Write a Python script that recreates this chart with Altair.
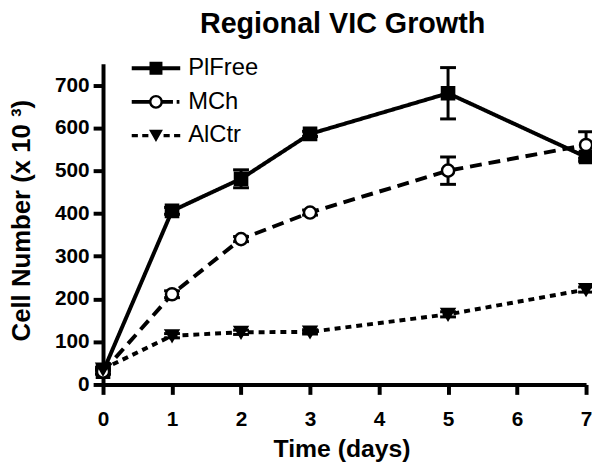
import altair as alt
import pandas as pd

# ---- data ----
days = [0, 1, 2, 3, 5, 7]
series_names = ["PlFree", "MCh", "AlCtr"]
plfree_mean = [30, 406, 481, 586, 681, 532]
plfree_err = [6, 8, 21, 6, 60, 10]
mch_mean = [30, 211, 340, 402, 500, 560]
mch_err = [5, 8, 6, 6, 32, 31]
alctr_mean = [36, 114, 122, 123, 164, 222]
alctr_err = [4, 5, 5, 5, 6, 6]

x_ticks = [0, 1, 2, 3, 4, 5, 6, 7]
y_ticks = [0, 100, 200, 300, 400, 500, 600, 700]

FONT = "Liberation Sans, Arial, Helvetica, sans-serif"

rows = []
for name, means, errs in [("PlFree", plfree_mean, plfree_err),
                          ("MCh", mch_mean, mch_err),
                          ("AlCtr", alctr_mean, alctr_err)]:
    for d, m, e in zip(days, means, errs):
        rows.append({"series": name, "day": d, "mean": m, "lo": m - e, "hi": m + e})
df = pd.DataFrame(rows)

# legend symbol glyphs (line segment + marker), drawn as filled outlines
legend_paths = [
    "M-1.5,-0.12H1.5V0.12H-1.5Z"
    "M-0.4,-0.4H0.4V0.4H-0.4Z",
    "M-1.5,-0.12H-0.4V0.12H-1.5Z"
    "M0.4,-0.12H1.05V0.12H0.4Z"
    "M1.28,-0.12H1.45V0.12H1.28Z"
    "M0.43,0A0.43,0.43 0 1,1 -0.43,0A0.43,0.43 0 1,1 0.43,0Z"
    "M0.28,0A0.28,0.28 0 1,0 -0.28,0A0.28,0.28 0 1,0 0.28,0Z",
    "M-1.5,-0.1H-1.12V0.1H-1.5Z"
    "M-0.85,-0.1H-0.47V0.1H-0.85Z"
    "M0.47,-0.1H0.85V0.1H0.47Z"
    "M1.12,-0.1H1.5V0.1H1.12Z"
    "M-0.43,-0.35L0.43,-0.35L0,0.4Z",
]

xenc = alt.X("day:Q", scale=alt.Scale(domain=[0, 7], nice=False),
             axis=alt.Axis(values=x_ticks, title="Time (days)", format="d",
                           titleX=241, titleY=73, titleBaseline="alphabetic",
                           titleAlign="center"))
yscale = alt.Scale(domain=[0, 750], nice=False)
yaxis = alt.Axis(values=y_ticks, title="Cell Number (x 10 ³)",
                 titleX=-82, titleY=158, titleAngle=270, titleAlign="center",
                 titleBaseline="middle", labelPadding=4, titleFontSize=26)

base = alt.Chart(df)

lines = base.mark_line(strokeWidth=4, color="black").encode(
    x=xenc,
    y=alt.Y("mean:Q", scale=yscale, axis=yaxis),
    strokeDash=alt.StrokeDash("series:N",
                              scale=alt.Scale(domain=series_names,
                                              range=[[1, 0], [12, 7], [6, 5]]),
                              legend=None),
)

err_rules = base.mark_rule(strokeWidth=3, color="black").encode(
    x="day:Q", y=alt.Y("lo:Q", scale=yscale), y2="hi:Q"
)
cap_hi = base.mark_point(shape="M-1,0L1,0", size=256, strokeWidth=3,
                         color="black", filled=False, opacity=1).encode(
    x="day:Q", y=alt.Y("hi:Q", scale=yscale))
cap_lo = base.mark_point(shape="M-1,0L1,0", size=256, strokeWidth=3,
                         color="black", filled=False, opacity=1).encode(
    x="day:Q", y=alt.Y("lo:Q", scale=yscale))

points = base.mark_point(filled=True, stroke="black", strokeWidth=2.5,
                         opacity=1, size=150).encode(
    x="day:Q",
    y=alt.Y("mean:Q", scale=yscale),
    shape=alt.Shape("series:N",
                    scale=alt.Scale(domain=series_names,
                                    range=["square", "circle", "triangle-down"]),
                    legend=None),
    fill=alt.Fill("series:N",
                  scale=alt.Scale(domain=series_names,
                                  range=["black", "white", "black"]),
                  legend=None),
)

leg = alt.Legend(title=None, orient="none", legendX=37, legendY=-12,
                 direction="vertical", symbolSize=1067, labelFontSize=24,
                 labelFont=FONT, labelColor="black", labelOffset=16,
                 rowPadding=5, padding=0, symbolFillColor="black",
                 symbolStrokeWidth=0, symbolOpacity=1, labelLimit=0)

legend_layer = base.transform_filter("false").mark_point(
    filled=True, color="black", opacity=1).encode(
    shape=alt.Shape("series:N",
                    scale=alt.Scale(domain=series_names, range=legend_paths),
                    legend=leg),
)

chart = alt.layer(lines, err_rules, cap_hi, cap_lo, points, legend_layer).resolve_scale(
    shape="independent", fill="independent"
).properties(
    width=488, height=324,
    title=alt.TitleParams("Regional VIC Growth", fontSize=29, font=FONT,
                          fontWeight="bold", color="black", anchor="middle",
                          baseline="alphabetic", offset=-10, dx=-2),
    autosize=alt.AutoSizeParams(type="none"),
    padding={"left": 96, "top": 54, "right": 6, "bottom": 77},
).configure_view(stroke=None).configure_axis(
    domainColor="black", domainWidth=4, tickColor="black", tickWidth=4,
    tickSize=10, labelFont=FONT, labelFontSize=21, labelFontWeight="bold",
    labelColor="black", titleFont=FONT, titleFontSize=25, titleFontWeight="bold",
    titleColor="black", grid=False, labelFlush=False, labelPadding=14
).configure_axisY(labelPadding=4)

chart.save("out.html", embed_options={"renderer": "svg", "actions": False})
